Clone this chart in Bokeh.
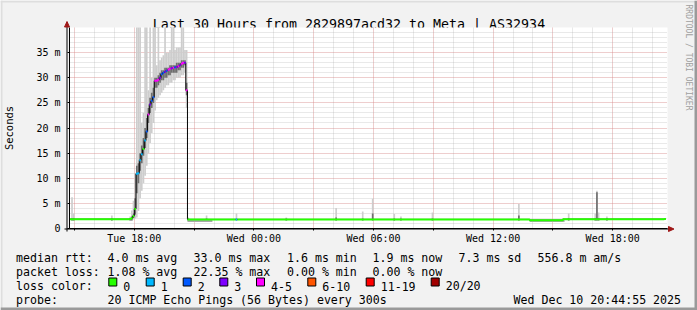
from math import pi
from bokeh.plotting import figure
from bokeh.layouts import column, row
from bokeh.models import Range1d, FixedTicker
from bokeh.core.properties import value
from bokeh.embed import file_html
from bokeh.resources import INLINE


def hours(stamp):
    day, hm = stamp.split()
    hh, mm = hm.split(":")
    return (24 if day == "Wed" else 0) + int(hh) + int(mm) / 60.0


X_START = hours("Tue 14:44") + 55 / 3600.0
X_END = hours("Wed 20:44") + 55 / 3600.0
STEP = 5 / 60.0

# ---------------- data ----------------
# flat stretches of the median rtt (ms) and their loss count
flat_start = ["Tue 14:45", "Tue 17:45", "Tue 17:50", "Tue 20:40", "Tue 23:05",
              "Tue 23:10", "Wed 13:50", "Wed 15:30", "Wed 20:35"]
flat_end = ["Tue 17:45", "Tue 17:50", "Tue 17:55", "Tue 23:05", "Tue 23:10",
            "Wed 13:50", "Wed 15:30", "Wed 20:35", "Wed 20:40"]
flat_rtt = [1.85, 1.9, 2.05, 1.8, 1.8, 1.8, 1.65, 1.85, 1.9]
flat_loss = [0, 0, 0, 0, 1, 0, 0, 0, 0]

# the event: one value per 5-minute step starting at event_first
event_first = "Tue 17:55"
event_rtt = [2.5, 3.9, 10.9, 11.0, 13.6, 14.8, 15.8, 17.5, 19.3, 22.7,
             24.7, 25.4, 26.1, 29.4, 29.4, 29.6, 30.0, 30.7, 31.0, 31.2,
             31.4, 31.6, 31.8, 31.9, 32.0, 32.1, 32.1, 32.3, 32.5, 32.8,
             33.0, 33.0, 27.5]
event_loss = [0, 0, 1, 1, 1, 1, 0, 1, 2, 4,
              3, 2, 2, 4, 4, 4, 3, 2, 2, 3,
              2, 4, 4, 3, 4, 2, 3, 4, 3, 4,
              4, 3, 4]
ev_min = [1.8, 2.0, 2.2, 3.5, 6.0, 7.5, 9.0, 10.5, 12.5, 15.0,
          17.0, 19.0, 21.0, 23.5, 25.5, 26.0, 26.5, 27.0, 27.5, 28.0,
          28.5, 28.5, 29.0, 29.0, 29.5, 29.5, 30.0, 30.0, 30.0, 30.5,
          30.5, 31.0, 24.0]
ev_q1 = [2.1, 2.8, 7.0, 9.0, 11.5, 13.0, 14.5, 16.0, 18.0, 21.0,
         23.0, 24.0, 25.0, 28.0, 28.0, 28.5, 29.0, 29.5, 29.5, 30.0,
         30.0, 30.5, 30.5, 31.0, 31.0, 31.0, 31.0, 31.5, 31.5, 32.0,
         32.0, 32.5, 26.5]
ev_q3 = [3.0, 6.0, 12.5, 13.0, 15.0, 16.5, 18.0, 20.0, 22.0, 24.0,
         26.0, 27.0, 28.0, 30.0, 30.0, 30.5, 31.0, 31.5, 31.5, 32.0,
         32.0, 32.0, 32.5, 32.5, 32.5, 32.5, 33.0, 33.0, 33.0, 33.5,
         33.5, 33.5, 29.0]
ev_max = [5.5, 11.0, 45, 45, 45, 21.0, 23.0, 45, 45, 27.5,
          45, 30.0, 45, 45, 32.5, 45, 33.5, 34.0, 34.5, 45,
          35.0, 35.0, 35.5, 45, 45, 35.5, 36.0, 36.0, 36.0, 45,
          45, 35.5, 35.5]

# isolated smoke spikes on the baseline (step start, low, dark top, light top)
spike_start = ["Tue 14:50", "Tue 14:55", "Tue 16:50", "Tue 17:45", "Tue 17:50",
               "Tue 20:40", "Tue 21:35", "Tue 23:05", "Wed 01:35", "Wed 04:05",
               "Wed 05:25", "Wed 05:55", "Wed 07:00", "Wed 07:20", "Wed 08:55",
               "Wed 13:15", "Wed 15:45", "Wed 17:05", "Wed 17:10", "Wed 17:15",
               "Wed 17:40"]
spike_low = [1.6, 1.6, 1.6, 1.6, 1.6, 1.6, 1.6, 1.6, 1.6, 1.6,
             1.6, 1.6, 1.6, 1.6, 1.6, 1.6, 1.6, 1.6, 1.6, 1.6, 1.6]
spike_mid = [2.0, 2.0, 2.0, 2.0, 2.4, 2.0, 2.0, 2.0, 2.0, 2.2,
             2.0, 3.0, 2.0, 2.0, 2.0, 2.6, 2.0, 2.0, 7.2, 2.0, 2.0]
spike_top = [6.2, 3.0, 2.6, 2.4, 3.6, 2.2, 2.6, 3.0, 2.2, 4.1,
             3.4, 5.9, 2.9, 2.4, 3.2, 4.9, 3.0, 3.0, 7.5, 3.2, 2.4]

# longer low smoke bands just under the baseline
band_start = ["Tue 20:40", "Wed 13:50"]
band_end = ["Tue 21:55", "Wed 15:35"]
band_low = [1.3, 1.3]
band_high = [1.9, 1.8]

# axes
x_major_hours = [15, 18, 21, 24, 27, 30, 33, 36, 39, 42]
x_label_hours = [18, 24, 30, 36, 42]
x_labels = ["Tue 18:00", "Wed 00:00", "Wed 06:00", "Wed 12:00", "Wed 18:00"]
y_ticks = [0, 5, 10, 15, 20, 25, 30, 35]
y_labels = ["0", "5 m", "10 m", "15 m", "20 m", "25 m", "30 m", "35 m"]

# legend texts
rtt_stats = ["4.0 ms avg", "33.0 ms max", "1.6 ms min", "1.9 ms now", "7.3 ms sd", "556.8 m am/s"]
loss_stats = ["1.08 % avg", "22.35 % max", "0.00 % min", "0.00 % now"]
loss_names = ["0", "1", "2", "3", "4-5", "6-10", "11-19", "20/20"]
loss_colors = ["#26ff00", "#00b8ff", "#0059ff", "#7e00ff", "#ff00ff", "#ff5500", "#ff0000", "#a10000"]
probe_text = "20 ICMP Echo Pings (56 Bytes) every 300s"
stamp_text = "Wed Dec 10 20:44:55 2025"
title_text = "Last 30 Hours from 2829897acd32 to Meta | AS32934"
credit_text = "RRDTOOL / TOBI OETIKER"


def loss_color(n):
    if n <= 3:
        return loss_colors[n]
    if n <= 5:
        return loss_colors[4]
    if n <= 10:
        return loss_colors[5]
    if n <= 19:
        return loss_colors[6]
    return loss_colors[7]


# ---------------- geometry of the page ----------------
W, H = 697, 310
FL, FT, FR, FB = 67, 27, 667, 228        # plot frame in page pixels
FONT = "DejaVu Sans Mono"
BG = "#f2f2f2"
SHADE_LIGHT = "#dedede"
SHADE_DARK = "#9a9a9a"
ARROW = "#a01818"

# ---------------- page background: frame, title, legend (pixel coordinates) ----------------
bg = figure(width=W, height=H, x_range=Range1d(0, W), y_range=Range1d(H, 0),
            x_axis_type=None, y_axis_type=None, output_backend="svg", toolbar_location=None,
            title=None, min_border=0)
bg.min_border_left = 0
bg.min_border_right = 0
bg.min_border_top = 0
bg.min_border_bottom = 0
bg.outline_line_color = None
bg.background_fill_color = BG
bg.border_fill_color = BG

bg.quad(left=[0, 0], right=[W, 2], top=[0, 0], bottom=[2, H], fill_color=SHADE_LIGHT, line_color=None)
bg.quad(left=[W - 3, 0], right=[W, W], top=[0, H - 3], bottom=[H, H], fill_color=SHADE_DARK, line_color=None)


def write(xs, ys, texts, size, color="#000000", align="left", baseline="alphabetic", angle=0.0):
    bg.text(x=xs, y=ys, text=texts, text_font=value(FONT), text_font_size=value(size),
            text_color=color, text_align=align, text_baseline=baseline, angle=angle)


write([348.5], [24], [title_text], "13.3px", align="center")
write([687.5], [4], [credit_text], "8px", color="#a0a0a0", baseline="middle", angle=-pi / 2)

# axis extensions and arrow heads
AX = FL - 0.5
AY = FB + 0.5
bg.segment(x0=[AX, FL - 3], y0=[21.5, AY], x1=[AX, FR + 5], y1=[FB + 3, AY], line_color="#000000", line_width=1)
bg.patches(xs=[[AX - 2.5, AX + 2.5, AX], [FR + 1, FR + 1, FR + 6.5]],
           ys=[[26.5, 26.5, 21.0], [AY - 2.5, AY + 2.5, AY]],
           fill_color=ARROW, line_color=ARROW)

col_x = [107, 193, 286.5, 372, 458, 537]
rows_y = [257.7, 271.7, 285.7, 299.5]
write([15.5] * 4, rows_y, ["median rtt:", "packet loss:", "loss color:", "probe:"], "11.6px")
write(col_x[:len(rtt_stats)], [rows_y[0]] * len(rtt_stats), rtt_stats, "11.6px")
write(col_x[:len(loss_stats)], [rows_y[1]] * len(loss_stats), loss_stats, "11.6px")
sq_x = [108.3, 145.7, 182.7, 219.3, 256.0, 307.3, 365.7, 430.7]
bg.quad(left=sq_x, right=[x + 8 for x in sq_x], top=[277.5] * len(sq_x), bottom=[285.5] * len(sq_x),
        fill_color=loss_colors, line_color="#000000", line_width=1)
write([x + 14.5 for x in sq_x], [rows_y[2]] * len(sq_x), loss_names, "11.6px")
write([107, 513], [rows_y[3], rows_y[3]], [probe_text, stamp_text], "11.6px")

# ---------------- main plot, laid over the background ----------------
p = figure(width=W, height=H, x_range=Range1d(X_START, X_END), y_range=Range1d(0, 40),
           output_backend="svg", toolbar_location=None, title=None,
           min_border_left=FL, min_border_right=W - FR, min_border_top=FT, min_border_bottom=H - FB)
p.background_fill_color = "#ffffff"
p.border_fill_color = None
p.outline_line_color = None

p.xaxis.ticker = FixedTicker(ticks=x_major_hours, minor_ticks=list(range(15, 45)))
ovr = {h: "" for h in x_major_hours}
for h, lab in zip(x_label_hours, x_labels):
    ovr[h] = lab
p.xaxis.major_label_overrides = ovr
p.yaxis.ticker = FixedTicker(ticks=y_ticks, minor_ticks=list(range(0, 41)))
p.yaxis.major_label_overrides = {t: lab for t, lab in zip(y_ticks, y_labels)}

for ax in (p.xaxis, p.yaxis):
    ax.axis_line_color = "#000000"
    ax.major_tick_line_color = "#000000"
    ax.major_tick_out = 2
    ax.major_tick_in = 0
    ax.minor_tick_line_color = None
    ax.major_label_text_font = FONT
    ax.major_label_text_font_size = "10px"
    ax.major_label_text_color = "#000000"
p.xaxis.major_label_standoff = 0
p.yaxis.major_label_standoff = 5
p.yaxis.axis_label = "Seconds"
p.yaxis.axis_label_text_font = FONT
p.yaxis.axis_label_text_font_size = "10.5px"
p.yaxis.axis_label_text_font_style = "normal"
p.yaxis.axis_label_text_color = "#000000"
p.yaxis.axis_label_standoff = 18

for g in (p.xgrid, p.ygrid):
    g.grid_line_color = "#ff7070"
    g.grid_line_alpha = 0.45
    g.grid_line_dash = "1 1"
    g.minor_grid_line_color = "#a8a8a8"
    g.minor_grid_line_alpha = 0.5
    g.minor_grid_line_dash = "1 1"

# smoke
OUTER = "#cdcdcd"
INNER = "#6e6e6e"
t0 = hours(event_first)
ev_left = [t0 + i * STEP for i in range(len(event_rtt))]
ev_right = [x + STEP for x in ev_left]
p.quad(left=ev_left, right=ev_right, bottom=ev_min, top=ev_max, fill_color=OUTER, line_color=None)
p.quad(left=ev_left, right=ev_right, bottom=ev_q1, top=ev_q3, fill_color=INNER, line_color=None)

sp_left = [hours(s) for s in spike_start]
sp_right = [x + STEP for x in sp_left]
p.quad(left=sp_left, right=sp_right, bottom=spike_low, top=spike_top, fill_color=OUTER, line_color=None)
p.quad(left=sp_left, right=sp_right, bottom=spike_low, top=spike_mid, fill_color=INNER, line_color=None)
p.quad(left=[hours(s) for s in band_start], right=[hours(s) for s in band_end],
       bottom=band_low, top=band_high, fill_color="#a8a8a8", line_color=None)

# median
intervals = []
for s, e, v, l in zip(flat_start, flat_end, flat_rtt, flat_loss):
    intervals.append((hours(s), hours(e), v, l))
for a, v, l in zip(ev_left, event_rtt, event_loss):
    intervals.append((a, a + STEP, v, l))
intervals.sort()

mx, my = [], []
for a, b, v, l in intervals:
    mx += [a, b]
    my += [v, v]
p.line(mx, my, line_color="#000000", line_width=1)

paths_x, paths_y, paths_c = [], [], []
prev = None
for a, b, v, l in intervals:
    c = loss_color(l)
    if prev is not None and prev[0] == c and abs(prev[1] - v) < 0.3 and abs(prev[2] - a) < 1e-6:
        paths_x[-1] += [a, b]
        paths_y[-1] += [v, v]
    else:
        paths_x.append([a, b])
        paths_y.append([v, v])
        paths_c.append(c)
    prev = (c, v, b)
p.multi_line(paths_x, paths_y, line_color=paths_c, line_width=2)

# the two layers are wrapped separately so that their frames are not aligned with each other
under = row(bg)
over = row(p, styles={"position": "absolute", "left": "0px", "top": "0px"})
layout = column(under, over, styles={"position": "relative"})
open("out.html", "w").write(file_html(layout, INLINE))
